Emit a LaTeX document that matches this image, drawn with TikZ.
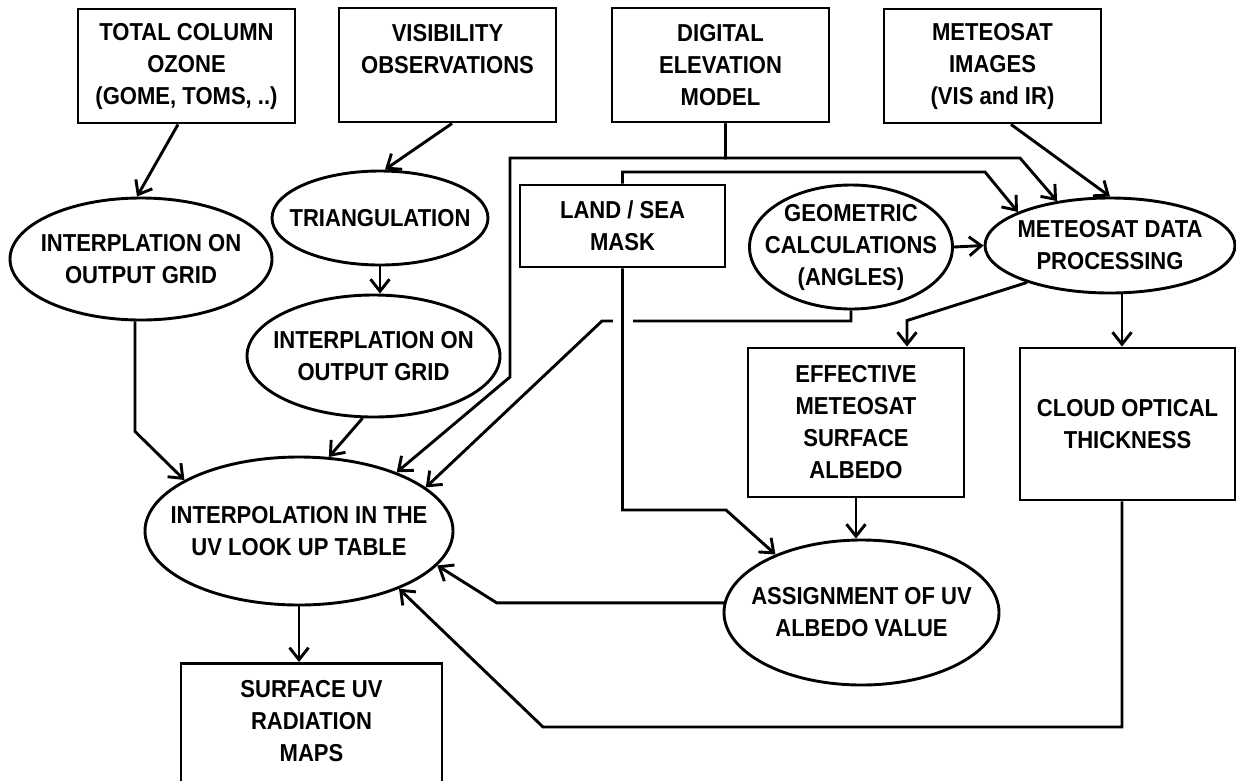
\documentclass[tikz,border=0pt]{standalone}
\usepackage{fontspec}
\setmainfont{Liberation Sans}[FakeStretch=0.9,UprightFont={* Bold}]
\usetikzlibrary{arrows.meta,shapes.geometric}

\begin{document}
\begin{tikzpicture}[
		x=1pt,
		y=-1pt,
		line width=2.9pt,
		>={Straight Barb[length=12pt,width=19pt]},
		every node/.style={
			font=\fontsize{24.5}{32}\selectfont,
			align=center,
		},
		box/.style={
			draw,
			minimum width=217pt,
			minimum height=114pt,
			inner xsep=2pt,
		},
		oval/.style={
			draw,
			ellipse,
			inner sep=-40pt,
		},
	]
		\useasboundingbox (0,0) rectangle (1236,780);

		\node[box] (ozone) at (186.5,66) {TOTAL COLUMN\\OZONE\\(GOME, TOMS, ..)};
		\node[box] (visob) at (447.5,65) {VISIBILITY\\OBSERVATIONS\\\mbox{}};
		\node[box] (dem) at (720.5,65) {DIGITAL\\ELEVATION\\MODEL};
		\node[box] (msgimg) at (992.5,66) {METEOSAT\\IMAGES\\(VIS and IR)};

		\node[oval, minimum width=262pt, minimum height=122pt] (interpA) at (141,259) {INTERPLATION ON\\OUTPUT GRID};
		\node[oval, minimum width=216pt, minimum height=94pt] (triang) at (380,218) {TRIANGULATION};
		\node[oval, minimum width=253pt, minimum height=122pt] (interpB) at (373.5,356) {INTERPLATION ON\\OUTPUT GRID};
		\node[box, minimum width=205pt, minimum height=82pt] (landsea) at (622.5,226) {LAND / SEA\\MASK};
		\node[oval, minimum width=203pt, minimum height=124pt] (geomcalc) at (851,247) {GEOMETRIC\\CALCULATIONS\\(ANGLES)};
		\node[oval, minimum width=250pt, minimum height=95pt] (mdp) at (1110,245.5) {METEOSAT DATA\\PROCESSING};
		\node[box, minimum width=216pt, minimum height=149pt] (effalb) at (856,422.5) {EFFECTIVE\\METEOSAT\\SURFACE\\ALBEDO};
		\node[box, minimum width=215pt, minimum height=152pt] (cot) at (1127.5,424) {CLOUD OPTICAL\\THICKNESS};
		\node[oval, minimum width=308pt, minimum height=148pt] (lut) at (299,531) {INTERPOLATION IN THE\\UV LOOK UP TABLE};
		\node[oval, minimum width=275pt, minimum height=145pt] (assign) at (861.5,612.5) {ASSIGNMENT OF UV\\ALBEDO VALUE};
		\node[box, minimum width=261pt, minimum height=146pt, anchor=north] (uvmap) at (311.5,662) {SURFACE UV\\RADIATION\\MAPS\\\mbox{}};

		\draw[->] ([xshift=-8.5pt]ozone.south) -- ([xshift=-4pt]interpA.north);
		\draw[->] ([xshift=4.5pt]visob.south) -- ([xshift=5pt]triang.north);
		\draw[->] (triang.south) -- (triang.south |- interpB.north);
		\draw[->] ([xshift=-6pt]interpA.south) -- ++(0,110) -- (lut.156);
		\draw[->] (interpB.-100) -- (lut.68);
		\draw[->] ([xshift=5pt]dem.south) |- (510,158) -- (510,377) -- (lut.31);
		\draw[->] ([xshift=5pt]dem.south) |- (1020,158) -- (mdp.140);
		\draw[->] (landsea.north) |- (985,172) -- (mdp.160);
		\draw[->] ([xshift=18.5pt]msgimg.south) -- (mdp.north);
		\draw[->] (geomcalc.east) -- (mdp.west);
		\draw[->] (geomcalc.south) |- (602,321) -- (lut.19);
		\draw[white, line width=6pt] (613,321) -- (633,321);
		\draw[->] (landsea.south) |- (726,510) -- (assign.146);
		\draw[->] (mdp.204) -- ([xshift=51pt,yshift=26pt]effalb.north) -- ([xshift=51pt]effalb.north);
		\draw[->] ([xshift=12pt]mdp.south) -- ([xshift=-5.5pt]cot.north);
		\draw[->] (effalb.south) -- (effalb.south |- assign.north);
		\draw[->] (assign.176) -- ++(-227,0) -- (lut.-14);
		\draw[->] ([xshift=-5.5pt]cot.south) |- (543,727) -- (lut.-30);
		\draw[->] (lut.south) -- (lut.south |- uvmap.north);
	\end{tikzpicture}
\end{document}
